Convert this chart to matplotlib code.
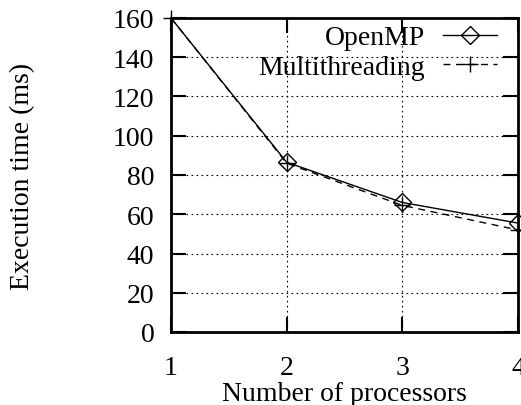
import matplotlib
matplotlib.use("Agg")
import matplotlib.pyplot as plt

# data
procs = [1, 2, 3, 4]
openmp = [160, 86.5, 66, 55.5]
multithreading = [160, 86, 64.5, 52]
y_ticks = [0, 20, 40, 60, 80, 100, 120, 140, 160]

plt.rcParams['font.family'] = ['Liberation Serif', 'DejaVu Serif']
plt.rcParams['font.size'] = 20

fig = plt.figure(figsize=(5.21, 4.06), dpi=100)
ax = fig.add_axes([171/521, 1 - 333/406, (518 - 171)/521, (333 - 19)/406])

# OpenMP: first point sits above range in the original, so its marker is not drawn
ax.plot(procs, openmp, color='black', lw=1, marker='D', ms=9, mfc='none',
        mew=1, markevery=[1, 2, 3], clip_on=False, label='OpenMP', zorder=3)
ax.plot(procs, multithreading, color='black', lw=1, ls=(0, (5, 4)), marker='+',
        ms=12, mew=1, clip_on=False, label='Multithreading', zorder=3)

ax.set_xlim(1, 4)
ax.set_ylim(0, 160)
ax.set_xticks(procs)
ax.set_yticks(y_ticks)
ax.grid(True, color='black', lw=0.8, ls=(0, (1.5, 3)))
ax.tick_params(direction='in', length=11, width=1.5, top=True, right=True)
ax.tick_params(axis='y', pad=12)
ax.tick_params(axis='x', pad=16.5)
for s in ax.spines.values():
    s.set_linewidth(2)

ax.set_xlabel('Number of processors', labelpad=0.5)
ax.set_ylabel('Execution time (ms)', labelpad=56)

ax.legend(loc='upper right', bbox_to_anchor=(497/521, 1 - 26/406),
          bbox_transform=fig.transFigure, frameon=False, markerfirst=False,
          handlelength=1.95, handletextpad=0.65, labelspacing=0.15,
          borderpad=0, borderaxespad=0, numpoints=1)

fig.savefig('out.png', dpi=100)
